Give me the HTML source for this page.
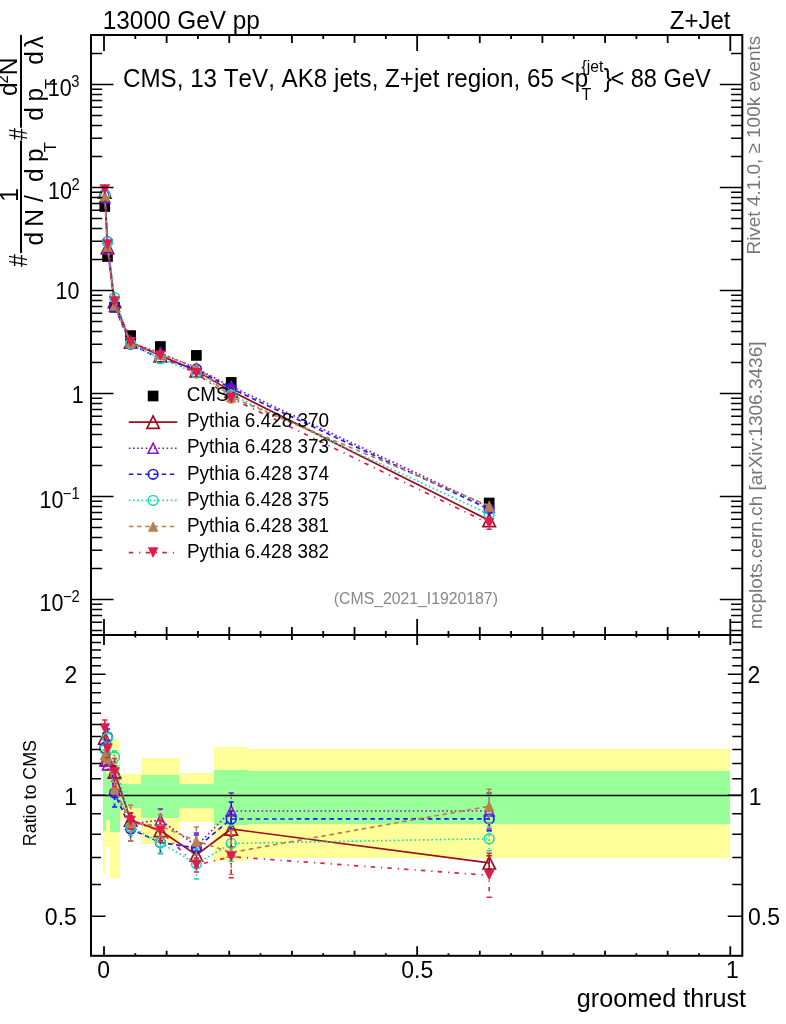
<!DOCTYPE html>
<html><head><meta charset="utf-8"><style>
html,body{margin:0;padding:0;background:#fff;}
svg{display:block;will-change:transform;}
text{font-family:"Liberation Sans", Arial, Helvetica, sans-serif;font-kerning:none;font-feature-settings:"kern" 0,"liga" 0;}
</style></head><body>
<svg width="786" height="1024" viewBox="0 0 786 1024">
<rect width="786" height="1024" fill="#fff"/>
<path d="M103,760H106V875H103ZM106,762H110V847H106ZM110,739H120V878H110ZM120,774H141V820H120ZM141,758H179V844H141ZM179,773H214V822H179ZM214,747H248V861H214ZM248,749H730V858H248Z" fill="#ffff99" shape-rendering="crispEdges"/>
<path d="M103,766H106V831H103ZM106,774H110V820H106ZM110,765H120V832H110ZM120,784H141V808H120ZM141,775H179V818H141ZM179,784H214V808H179ZM214,770H248V825H214ZM248,771H730V824H248Z" fill="#99ff99" shape-rendering="crispEdges"/>
<line x1="91" y1="795.5" x2="742.3" y2="795.5" stroke="#000" stroke-width="1.5"/>
<clipPath id="ct"><rect x="91" y="35" width="651.3" height="600"/></clipPath>
<clipPath id="cr"><rect x="91" y="635" width="651.3" height="320.79999999999995"/></clipPath>
<g clip-path="url(#ct)">
<rect x="99.43" y="201.15" width="10.70" height="10.70" fill="#000"/>
<rect x="102.16" y="251.15" width="10.70" height="10.70" fill="#000"/>
<rect x="109.21" y="301.95" width="10.70" height="10.70" fill="#000"/>
<rect x="125.27" y="330.25" width="10.70" height="10.70" fill="#000"/>
<rect x="155.02" y="341.15" width="10.70" height="10.70" fill="#000"/>
<rect x="191.03" y="350.05" width="10.70" height="10.70" fill="#000"/>
<rect x="225.88" y="377.05" width="10.70" height="10.70" fill="#000"/>
<rect x="483.82" y="497.65" width="10.70" height="10.70" fill="#000"/>
<path d="M104.78,191.90 L107.51,247.53 L114.56,301.41 L130.62,342.01 L160.37,355.60 L196.38,370.77 L231.23,391.11 L489.17,520.37" fill="none" stroke="#a00c1c" stroke-width="1.7"/>
<path d="M98.58,198.10 L110.98,198.10 L104.78,185.70 Z" fill="none" stroke="#a00c1c" stroke-width="1.7"/>
<path d="M101.31,253.73 L113.71,253.73 L107.51,241.33 Z" fill="none" stroke="#a00c1c" stroke-width="1.7"/>
<path d="M108.36,307.61 L120.76,307.61 L114.56,295.21 Z" fill="none" stroke="#a00c1c" stroke-width="1.7"/>
<path d="M124.42,348.21 L136.82,348.21 L130.62,335.81 Z" fill="none" stroke="#a00c1c" stroke-width="1.7"/>
<path d="M154.17,361.80 L166.57,361.80 L160.37,349.40 Z" fill="none" stroke="#a00c1c" stroke-width="1.7"/>
<path d="M190.18,376.97 L202.58,376.97 L196.38,364.57 Z" fill="none" stroke="#a00c1c" stroke-width="1.7"/>
<path d="M225.03,397.31 L237.43,397.31 L231.23,384.91 Z" fill="none" stroke="#a00c1c" stroke-width="1.7"/>
<path d="M482.97,526.57 L495.37,526.57 L489.17,514.17 Z" fill="none" stroke="#a00c1c" stroke-width="1.7"/>
<path d="M104.78,197.79 L107.51,248.81 L114.56,306.02 L130.62,343.03 L160.37,352.91 L196.38,368.47 L231.23,386.50 L489.17,507.10" fill="none" stroke="#8a14c8" stroke-width="1.7" stroke-dasharray="1.6,2.6"/>
<path d="M99.78,202.79 L109.78,202.79 L104.78,192.79 Z" fill="none" stroke="#8a14c8" stroke-width="1.6"/>
<path d="M102.51,253.81 L112.51,253.81 L107.51,243.81 Z" fill="none" stroke="#8a14c8" stroke-width="1.6"/>
<path d="M109.56,311.02 L119.56,311.02 L114.56,301.02 Z" fill="none" stroke="#8a14c8" stroke-width="1.6"/>
<path d="M125.62,348.03 L135.62,348.03 L130.62,338.03 Z" fill="none" stroke="#8a14c8" stroke-width="1.6"/>
<path d="M155.37,357.91 L165.37,357.91 L160.37,347.91 Z" fill="none" stroke="#8a14c8" stroke-width="1.6"/>
<path d="M191.38,373.47 L201.38,373.47 L196.38,363.47 Z" fill="none" stroke="#8a14c8" stroke-width="1.6"/>
<path d="M226.23,391.50 L236.23,391.50 L231.23,381.50 Z" fill="none" stroke="#8a14c8" stroke-width="1.6"/>
<path d="M484.17,512.10 L494.17,512.10 L489.17,502.10 Z" fill="none" stroke="#8a14c8" stroke-width="1.6"/>
<path d="M104.78,194.46 L107.51,241.64 L114.56,306.79 L130.62,344.31 L160.37,358.67 L196.38,368.98 L231.23,388.55 L489.17,509.12" fill="none" stroke="#1c1cf0" stroke-width="1.7" stroke-dasharray="4.6,3.6"/>
<circle cx="104.78" cy="194.46" r="4.85" fill="none" stroke="#1c1cf0" stroke-width="1.6"/>
<circle cx="107.51" cy="241.64" r="4.85" fill="none" stroke="#1c1cf0" stroke-width="1.6"/>
<circle cx="114.56" cy="306.79" r="4.85" fill="none" stroke="#1c1cf0" stroke-width="1.6"/>
<circle cx="130.62" cy="344.31" r="4.85" fill="none" stroke="#1c1cf0" stroke-width="1.6"/>
<circle cx="160.37" cy="358.67" r="4.85" fill="none" stroke="#1c1cf0" stroke-width="1.6"/>
<circle cx="196.38" cy="368.98" r="4.85" fill="none" stroke="#1c1cf0" stroke-width="1.6"/>
<circle cx="231.23" cy="388.55" r="4.85" fill="none" stroke="#1c1cf0" stroke-width="1.6"/>
<circle cx="489.17" cy="509.12" r="4.85" fill="none" stroke="#1c1cf0" stroke-width="1.6"/>
<path d="M104.78,194.84 L107.51,241.90 L114.56,297.56 L130.62,343.80 L160.37,358.67 L196.38,373.08 L231.23,394.80 L489.17,514.20" fill="none" stroke="#14dcb4" stroke-width="1.7" stroke-dasharray="1.6,2.6"/>
<circle cx="104.78" cy="194.84" r="4.85" fill="none" stroke="#14dcb4" stroke-width="1.6"/>
<circle cx="107.51" cy="241.90" r="4.85" fill="none" stroke="#14dcb4" stroke-width="1.6"/>
<circle cx="114.56" cy="297.56" r="4.85" fill="none" stroke="#14dcb4" stroke-width="1.6"/>
<circle cx="130.62" cy="343.80" r="4.85" fill="none" stroke="#14dcb4" stroke-width="1.6"/>
<circle cx="160.37" cy="358.67" r="4.85" fill="none" stroke="#14dcb4" stroke-width="1.6"/>
<circle cx="196.38" cy="373.08" r="4.85" fill="none" stroke="#14dcb4" stroke-width="1.6"/>
<circle cx="231.23" cy="394.80" r="4.85" fill="none" stroke="#14dcb4" stroke-width="1.6"/>
<circle cx="489.17" cy="514.20" r="4.85" fill="none" stroke="#14dcb4" stroke-width="1.6"/>
<path d="M104.78,196.25 L107.51,247.02 L114.56,305.51 L130.62,342.77 L160.37,354.44 L196.38,367.19 L231.23,397.13 L489.17,505.87" fill="none" stroke="#b8804c" stroke-width="1.7" stroke-dasharray="4.6,3.6"/>
<path d="M231.23,391.50L231.23,402.77" stroke="#b8804c" stroke-width="1.6" stroke-dasharray="4.6,3.6"/><path d="M228.63,391.50L233.83,391.50M228.63,402.77L233.83,402.77" stroke="#b8804c" stroke-width="1.6"/>
<path d="M99.48,201.55 L110.08,201.55 L104.78,190.95 Z" fill="#b8804c"/>
<path d="M102.21,252.32 L112.81,252.32 L107.51,241.72 Z" fill="#b8804c"/>
<path d="M109.26,310.81 L119.86,310.81 L114.56,300.21 Z" fill="#b8804c"/>
<path d="M125.32,348.07 L135.92,348.07 L130.62,337.47 Z" fill="#b8804c"/>
<path d="M155.07,359.74 L165.67,359.74 L160.37,349.14 Z" fill="#b8804c"/>
<path d="M191.08,372.49 L201.68,372.49 L196.38,361.89 Z" fill="#b8804c"/>
<path d="M225.93,402.43 L236.53,402.43 L231.23,391.83 Z" fill="#b8804c"/>
<path d="M483.87,511.17 L494.47,511.17 L489.17,500.57 Z" fill="#b8804c"/>
<path d="M104.78,189.46 L107.51,244.66 L114.56,301.54 L130.62,342.26 L160.37,355.72 L196.38,373.34 L231.23,398.21 L489.17,523.57" fill="none" stroke="#e01c4c" stroke-width="1.7" stroke-dasharray="4.4,6,1.2,5.2"/>
<path d="M489.17,517.94L489.17,529.21" stroke="#e01c4c" stroke-width="1.6" stroke-dasharray="4.4,6,1.2,5.2"/><path d="M486.57,517.94L491.77,517.94M486.57,529.21L491.77,529.21" stroke="#e01c4c" stroke-width="1.6"/>
<path d="M99.48,184.16 L110.08,184.16 L104.78,194.76 Z" fill="#e01c4c"/>
<path d="M102.21,239.36 L112.81,239.36 L107.51,249.96 Z" fill="#e01c4c"/>
<path d="M109.26,296.24 L119.86,296.24 L114.56,306.84 Z" fill="#e01c4c"/>
<path d="M125.32,336.96 L135.92,336.96 L130.62,347.56 Z" fill="#e01c4c"/>
<path d="M155.07,350.42 L165.67,350.42 L160.37,361.02 Z" fill="#e01c4c"/>
<path d="M191.08,368.04 L201.68,368.04 L196.38,378.64 Z" fill="#e01c4c"/>
<path d="M225.93,392.91 L236.53,392.91 L231.23,403.51 Z" fill="#e01c4c"/>
<path d="M483.87,518.27 L494.47,518.27 L489.17,528.87 Z" fill="#e01c4c"/>
</g>
<g clip-path="url(#cr)">
<path d="M104.78,738.00 L107.51,760.00 L114.56,772.00 L130.62,820.00 L160.37,830.50 L196.38,855.00 L231.23,829.00 L489.17,862.80" fill="none" stroke="#a00c1c" stroke-width="1.7"/>
<path d="M104.78,733.00L104.78,743.00" stroke="#a00c1c" stroke-width="1.6"/><path d="M102.18,733.00L107.38,733.00M102.18,743.00L107.38,743.00" stroke="#a00c1c" stroke-width="1.6"/>
<path d="M107.51,755.00L107.51,765.00" stroke="#a00c1c" stroke-width="1.6"/><path d="M104.91,755.00L110.11,755.00M104.91,765.00L110.11,765.00" stroke="#a00c1c" stroke-width="1.6"/>
<path d="M114.56,766.00L114.56,778.00" stroke="#a00c1c" stroke-width="1.6"/><path d="M111.96,766.00L117.16,766.00M111.96,778.00L117.16,778.00" stroke="#a00c1c" stroke-width="1.6"/>
<path d="M130.62,813.00L130.62,827.00" stroke="#a00c1c" stroke-width="1.6"/><path d="M128.02,813.00L133.22,813.00M128.02,827.00L133.22,827.00" stroke="#a00c1c" stroke-width="1.6"/>
<path d="M160.37,820.50L160.37,840.50" stroke="#a00c1c" stroke-width="1.6"/><path d="M157.77,820.50L162.97,820.50M157.77,840.50L162.97,840.50" stroke="#a00c1c" stroke-width="1.6"/>
<path d="M196.38,843.00L196.38,867.00" stroke="#a00c1c" stroke-width="1.6"/><path d="M193.78,843.00L198.98,843.00M193.78,867.00L198.98,867.00" stroke="#a00c1c" stroke-width="1.6"/>
<path d="M231.23,811.00L231.23,847.00" stroke="#a00c1c" stroke-width="1.6"/><path d="M228.63,811.00L233.83,811.00M228.63,847.00L233.83,847.00" stroke="#a00c1c" stroke-width="1.6"/>
<path d="M489.17,855.80L489.17,869.80" stroke="#a00c1c" stroke-width="1.6"/><path d="M486.57,855.80L491.77,855.80M486.57,869.80L491.77,869.80" stroke="#a00c1c" stroke-width="1.6"/>
<path d="M98.58,744.20 L110.98,744.20 L104.78,731.80 Z" fill="none" stroke="#a00c1c" stroke-width="1.7"/>
<path d="M101.31,766.20 L113.71,766.20 L107.51,753.80 Z" fill="none" stroke="#a00c1c" stroke-width="1.7"/>
<path d="M108.36,778.20 L120.76,778.20 L114.56,765.80 Z" fill="none" stroke="#a00c1c" stroke-width="1.7"/>
<path d="M124.42,826.20 L136.82,826.20 L130.62,813.80 Z" fill="none" stroke="#a00c1c" stroke-width="1.7"/>
<path d="M154.17,836.70 L166.57,836.70 L160.37,824.30 Z" fill="none" stroke="#a00c1c" stroke-width="1.7"/>
<path d="M190.18,861.20 L202.58,861.20 L196.38,848.80 Z" fill="none" stroke="#a00c1c" stroke-width="1.7"/>
<path d="M225.03,835.20 L237.43,835.20 L231.23,822.80 Z" fill="none" stroke="#a00c1c" stroke-width="1.7"/>
<path d="M482.97,869.00 L495.37,869.00 L489.17,856.60 Z" fill="none" stroke="#a00c1c" stroke-width="1.7"/>
<path d="M104.78,761.00 L107.51,765.00 L114.56,790.00 L130.62,824.00 L160.37,820.00 L196.38,846.00 L231.23,811.00 L489.17,811.00" fill="none" stroke="#8a14c8" stroke-width="1.7" stroke-dasharray="1.6,2.6"/>
<path d="M104.78,756.00L104.78,766.00" stroke="#8a14c8" stroke-width="1.6" stroke-dasharray="1.6,2.6"/><path d="M102.18,756.00L107.38,756.00M102.18,766.00L107.38,766.00" stroke="#8a14c8" stroke-width="1.6"/>
<path d="M107.51,760.00L107.51,770.00" stroke="#8a14c8" stroke-width="1.6" stroke-dasharray="1.6,2.6"/><path d="M104.91,760.00L110.11,760.00M104.91,770.00L110.11,770.00" stroke="#8a14c8" stroke-width="1.6"/>
<path d="M114.56,784.00L114.56,796.00" stroke="#8a14c8" stroke-width="1.6" stroke-dasharray="1.6,2.6"/><path d="M111.96,784.00L117.16,784.00M111.96,796.00L117.16,796.00" stroke="#8a14c8" stroke-width="1.6"/>
<path d="M130.62,816.00L130.62,832.00" stroke="#8a14c8" stroke-width="1.6" stroke-dasharray="1.6,2.6"/><path d="M128.02,816.00L133.22,816.00M128.02,832.00L133.22,832.00" stroke="#8a14c8" stroke-width="1.6"/>
<path d="M160.37,809.00L160.37,831.00" stroke="#8a14c8" stroke-width="1.6" stroke-dasharray="1.6,2.6"/><path d="M157.77,809.00L162.97,809.00M157.77,831.00L162.97,831.00" stroke="#8a14c8" stroke-width="1.6"/>
<path d="M196.38,833.00L196.38,859.00" stroke="#8a14c8" stroke-width="1.6" stroke-dasharray="1.6,2.6"/><path d="M193.78,833.00L198.98,833.00M193.78,859.00L198.98,859.00" stroke="#8a14c8" stroke-width="1.6"/>
<path d="M231.23,793.00L231.23,829.00" stroke="#8a14c8" stroke-width="1.6" stroke-dasharray="1.6,2.6"/><path d="M228.63,793.00L233.83,793.00M228.63,829.00L233.83,829.00" stroke="#8a14c8" stroke-width="1.6"/>
<path d="M489.17,793.00L489.17,829.00" stroke="#8a14c8" stroke-width="1.6" stroke-dasharray="1.6,2.6"/><path d="M486.57,793.00L491.77,793.00M486.57,829.00L491.77,829.00" stroke="#8a14c8" stroke-width="1.6"/>
<path d="M99.78,766.00 L109.78,766.00 L104.78,756.00 Z" fill="none" stroke="#8a14c8" stroke-width="1.6"/>
<path d="M102.51,770.00 L112.51,770.00 L107.51,760.00 Z" fill="none" stroke="#8a14c8" stroke-width="1.6"/>
<path d="M109.56,795.00 L119.56,795.00 L114.56,785.00 Z" fill="none" stroke="#8a14c8" stroke-width="1.6"/>
<path d="M125.62,829.00 L135.62,829.00 L130.62,819.00 Z" fill="none" stroke="#8a14c8" stroke-width="1.6"/>
<path d="M155.37,825.00 L165.37,825.00 L160.37,815.00 Z" fill="none" stroke="#8a14c8" stroke-width="1.6"/>
<path d="M191.38,851.00 L201.38,851.00 L196.38,841.00 Z" fill="none" stroke="#8a14c8" stroke-width="1.6"/>
<path d="M226.23,816.00 L236.23,816.00 L231.23,806.00 Z" fill="none" stroke="#8a14c8" stroke-width="1.6"/>
<path d="M484.17,816.00 L494.17,816.00 L489.17,806.00 Z" fill="none" stroke="#8a14c8" stroke-width="1.6"/>
<path d="M104.78,748.00 L107.51,737.00 L114.56,793.00 L130.62,829.00 L160.37,842.50 L196.38,848.00 L231.23,819.00 L489.17,818.90" fill="none" stroke="#1c1cf0" stroke-width="1.7" stroke-dasharray="4.6,3.6"/>
<path d="M104.78,743.00L104.78,753.00" stroke="#1c1cf0" stroke-width="1.6" stroke-dasharray="4.6,3.6"/><path d="M102.18,743.00L107.38,743.00M102.18,753.00L107.38,753.00" stroke="#1c1cf0" stroke-width="1.6"/>
<path d="M107.51,729.00L107.51,745.00" stroke="#1c1cf0" stroke-width="1.6" stroke-dasharray="4.6,3.6"/><path d="M104.91,729.00L110.11,729.00M104.91,745.00L110.11,745.00" stroke="#1c1cf0" stroke-width="1.6"/>
<path d="M114.56,779.00L114.56,807.00" stroke="#1c1cf0" stroke-width="1.6" stroke-dasharray="4.6,3.6"/><path d="M111.96,779.00L117.16,779.00M111.96,807.00L117.16,807.00" stroke="#1c1cf0" stroke-width="1.6"/>
<path d="M130.62,817.00L130.62,841.00" stroke="#1c1cf0" stroke-width="1.6" stroke-dasharray="4.6,3.6"/><path d="M128.02,817.00L133.22,817.00M128.02,841.00L133.22,841.00" stroke="#1c1cf0" stroke-width="1.6"/>
<path d="M160.37,831.50L160.37,853.50" stroke="#1c1cf0" stroke-width="1.6" stroke-dasharray="4.6,3.6"/><path d="M157.77,831.50L162.97,831.50M157.77,853.50L162.97,853.50" stroke="#1c1cf0" stroke-width="1.6"/>
<path d="M196.38,835.00L196.38,861.00" stroke="#1c1cf0" stroke-width="1.6" stroke-dasharray="4.6,3.6"/><path d="M193.78,835.00L198.98,835.00M193.78,861.00L198.98,861.00" stroke="#1c1cf0" stroke-width="1.6"/>
<path d="M231.23,802.00L231.23,836.00" stroke="#1c1cf0" stroke-width="1.6" stroke-dasharray="4.6,3.6"/><path d="M228.63,802.00L233.83,802.00M228.63,836.00L233.83,836.00" stroke="#1c1cf0" stroke-width="1.6"/>
<path d="M489.17,806.90L489.17,830.90" stroke="#1c1cf0" stroke-width="1.6" stroke-dasharray="4.6,3.6"/><path d="M486.57,806.90L491.77,806.90M486.57,830.90L491.77,830.90" stroke="#1c1cf0" stroke-width="1.6"/>
<circle cx="104.78" cy="748.00" r="4.85" fill="none" stroke="#1c1cf0" stroke-width="1.6"/>
<circle cx="107.51" cy="737.00" r="4.85" fill="none" stroke="#1c1cf0" stroke-width="1.6"/>
<circle cx="114.56" cy="793.00" r="4.85" fill="none" stroke="#1c1cf0" stroke-width="1.6"/>
<circle cx="130.62" cy="829.00" r="4.85" fill="none" stroke="#1c1cf0" stroke-width="1.6"/>
<circle cx="160.37" cy="842.50" r="4.85" fill="none" stroke="#1c1cf0" stroke-width="1.6"/>
<circle cx="196.38" cy="848.00" r="4.85" fill="none" stroke="#1c1cf0" stroke-width="1.6"/>
<circle cx="231.23" cy="819.00" r="4.85" fill="none" stroke="#1c1cf0" stroke-width="1.6"/>
<circle cx="489.17" cy="818.90" r="4.85" fill="none" stroke="#1c1cf0" stroke-width="1.6"/>
<path d="M104.78,749.50 L107.51,738.00 L114.56,757.00 L130.62,827.00 L160.37,842.50 L196.38,864.00 L231.23,843.40 L489.17,838.70" fill="none" stroke="#14dcb4" stroke-width="1.7" stroke-dasharray="1.6,2.6"/>
<path d="M104.78,744.50L104.78,754.50" stroke="#14dcb4" stroke-width="1.6" stroke-dasharray="1.6,2.6"/><path d="M102.18,744.50L107.38,744.50M102.18,754.50L107.38,754.50" stroke="#14dcb4" stroke-width="1.6"/>
<path d="M107.51,733.00L107.51,743.00" stroke="#14dcb4" stroke-width="1.6" stroke-dasharray="1.6,2.6"/><path d="M104.91,733.00L110.11,733.00M104.91,743.00L110.11,743.00" stroke="#14dcb4" stroke-width="1.6"/>
<path d="M114.56,751.00L114.56,763.00" stroke="#14dcb4" stroke-width="1.6" stroke-dasharray="1.6,2.6"/><path d="M111.96,751.00L117.16,751.00M111.96,763.00L117.16,763.00" stroke="#14dcb4" stroke-width="1.6"/>
<path d="M130.62,819.00L130.62,835.00" stroke="#14dcb4" stroke-width="1.6" stroke-dasharray="1.6,2.6"/><path d="M128.02,819.00L133.22,819.00M128.02,835.00L133.22,835.00" stroke="#14dcb4" stroke-width="1.6"/>
<path d="M160.37,831.50L160.37,853.50" stroke="#14dcb4" stroke-width="1.6" stroke-dasharray="1.6,2.6"/><path d="M157.77,831.50L162.97,831.50M157.77,853.50L162.97,853.50" stroke="#14dcb4" stroke-width="1.6"/>
<path d="M196.38,849.00L196.38,879.00" stroke="#14dcb4" stroke-width="1.6" stroke-dasharray="1.6,2.6"/><path d="M193.78,849.00L198.98,849.00M193.78,879.00L198.98,879.00" stroke="#14dcb4" stroke-width="1.6"/>
<path d="M231.23,825.40L231.23,861.40" stroke="#14dcb4" stroke-width="1.6" stroke-dasharray="1.6,2.6"/><path d="M228.63,825.40L233.83,825.40M228.63,861.40L233.83,861.40" stroke="#14dcb4" stroke-width="1.6"/>
<path d="M489.17,826.70L489.17,850.70" stroke="#14dcb4" stroke-width="1.6" stroke-dasharray="1.6,2.6"/><path d="M486.57,826.70L491.77,826.70M486.57,850.70L491.77,850.70" stroke="#14dcb4" stroke-width="1.6"/>
<circle cx="104.78" cy="749.50" r="4.85" fill="none" stroke="#14dcb4" stroke-width="1.6"/>
<circle cx="107.51" cy="738.00" r="4.85" fill="none" stroke="#14dcb4" stroke-width="1.6"/>
<circle cx="114.56" cy="757.00" r="4.85" fill="none" stroke="#14dcb4" stroke-width="1.6"/>
<circle cx="130.62" cy="827.00" r="4.85" fill="none" stroke="#14dcb4" stroke-width="1.6"/>
<circle cx="160.37" cy="842.50" r="4.85" fill="none" stroke="#14dcb4" stroke-width="1.6"/>
<circle cx="196.38" cy="864.00" r="4.85" fill="none" stroke="#14dcb4" stroke-width="1.6"/>
<circle cx="231.23" cy="843.40" r="4.85" fill="none" stroke="#14dcb4" stroke-width="1.6"/>
<circle cx="489.17" cy="838.70" r="4.85" fill="none" stroke="#14dcb4" stroke-width="1.6"/>
<path d="M104.78,755.00 L107.51,758.00 L114.56,788.00 L130.62,823.00 L160.37,826.00 L196.38,841.00 L231.23,852.50 L489.17,806.20" fill="none" stroke="#b8804c" stroke-width="1.7" stroke-dasharray="4.6,3.6"/>
<path d="M104.78,750.00L104.78,760.00" stroke="#b8804c" stroke-width="1.6" stroke-dasharray="4.6,3.6"/><path d="M102.18,750.00L107.38,750.00M102.18,760.00L107.38,760.00" stroke="#b8804c" stroke-width="1.6"/>
<path d="M107.51,753.00L107.51,763.00" stroke="#b8804c" stroke-width="1.6" stroke-dasharray="4.6,3.6"/><path d="M104.91,753.00L110.11,753.00M104.91,763.00L110.11,763.00" stroke="#b8804c" stroke-width="1.6"/>
<path d="M114.56,782.00L114.56,794.00" stroke="#b8804c" stroke-width="1.6" stroke-dasharray="4.6,3.6"/><path d="M111.96,782.00L117.16,782.00M111.96,794.00L117.16,794.00" stroke="#b8804c" stroke-width="1.6"/>
<path d="M130.62,805.00L130.62,841.00" stroke="#b8804c" stroke-width="1.6" stroke-dasharray="4.6,3.6"/><path d="M128.02,805.00L133.22,805.00M128.02,841.00L133.22,841.00" stroke="#b8804c" stroke-width="1.6"/>
<path d="M160.37,815.00L160.37,837.00" stroke="#b8804c" stroke-width="1.6" stroke-dasharray="4.6,3.6"/><path d="M157.77,815.00L162.97,815.00M157.77,837.00L162.97,837.00" stroke="#b8804c" stroke-width="1.6"/>
<path d="M196.38,827.00L196.38,855.00" stroke="#b8804c" stroke-width="1.6" stroke-dasharray="4.6,3.6"/><path d="M193.78,827.00L198.98,827.00M193.78,855.00L198.98,855.00" stroke="#b8804c" stroke-width="1.6"/>
<path d="M231.23,830.50L231.23,874.50" stroke="#b8804c" stroke-width="1.6" stroke-dasharray="4.6,3.6"/><path d="M228.63,830.50L233.83,830.50M228.63,874.50L233.83,874.50" stroke="#b8804c" stroke-width="1.6"/>
<path d="M489.17,789.20L489.17,823.20" stroke="#b8804c" stroke-width="1.6" stroke-dasharray="4.6,3.6"/><path d="M486.57,789.20L491.77,789.20M486.57,823.20L491.77,823.20" stroke="#b8804c" stroke-width="1.6"/>
<path d="M99.48,760.30 L110.08,760.30 L104.78,749.70 Z" fill="#b8804c"/>
<path d="M102.21,763.30 L112.81,763.30 L107.51,752.70 Z" fill="#b8804c"/>
<path d="M109.26,793.30 L119.86,793.30 L114.56,782.70 Z" fill="#b8804c"/>
<path d="M125.32,828.30 L135.92,828.30 L130.62,817.70 Z" fill="#b8804c"/>
<path d="M155.07,831.30 L165.67,831.30 L160.37,820.70 Z" fill="#b8804c"/>
<path d="M191.08,846.30 L201.68,846.30 L196.38,835.70 Z" fill="#b8804c"/>
<path d="M225.93,857.80 L236.53,857.80 L231.23,847.20 Z" fill="#b8804c"/>
<path d="M483.87,811.50 L494.47,811.50 L489.17,800.90 Z" fill="#b8804c"/>
<path d="M104.78,728.50 L107.51,748.80 L114.56,772.50 L130.62,821.00 L160.37,831.00 L196.38,865.00 L231.23,856.70 L489.17,875.30" fill="none" stroke="#e01c4c" stroke-width="1.7" stroke-dasharray="4.4,6,1.2,5.2"/>
<path d="M104.78,720.00L104.78,737.00" stroke="#e01c4c" stroke-width="1.6" stroke-dasharray="4.4,6,1.2,5.2"/><path d="M102.18,720.00L107.38,720.00M102.18,737.00L107.38,737.00" stroke="#e01c4c" stroke-width="1.6"/>
<path d="M107.51,739.80L107.51,757.80" stroke="#e01c4c" stroke-width="1.6" stroke-dasharray="4.4,6,1.2,5.2"/><path d="M104.91,739.80L110.11,739.80M104.91,757.80L110.11,757.80" stroke="#e01c4c" stroke-width="1.6"/>
<path d="M114.56,758.50L114.56,786.50" stroke="#e01c4c" stroke-width="1.6" stroke-dasharray="4.4,6,1.2,5.2"/><path d="M111.96,758.50L117.16,758.50M111.96,786.50L117.16,786.50" stroke="#e01c4c" stroke-width="1.6"/>
<path d="M130.62,813.00L130.62,829.00" stroke="#e01c4c" stroke-width="1.6" stroke-dasharray="4.4,6,1.2,5.2"/><path d="M128.02,813.00L133.22,813.00M128.02,829.00L133.22,829.00" stroke="#e01c4c" stroke-width="1.6"/>
<path d="M160.37,820.00L160.37,842.00" stroke="#e01c4c" stroke-width="1.6" stroke-dasharray="4.4,6,1.2,5.2"/><path d="M157.77,820.00L162.97,820.00M157.77,842.00L162.97,842.00" stroke="#e01c4c" stroke-width="1.6"/>
<path d="M196.38,858.00L196.38,872.00" stroke="#e01c4c" stroke-width="1.6" stroke-dasharray="4.4,6,1.2,5.2"/><path d="M193.78,858.00L198.98,858.00M193.78,872.00L198.98,872.00" stroke="#e01c4c" stroke-width="1.6"/>
<path d="M231.23,835.70L231.23,877.70" stroke="#e01c4c" stroke-width="1.6" stroke-dasharray="4.4,6,1.2,5.2"/><path d="M228.63,835.70L233.83,835.70M228.63,877.70L233.83,877.70" stroke="#e01c4c" stroke-width="1.6"/>
<path d="M489.17,853.30L489.17,897.30" stroke="#e01c4c" stroke-width="1.6" stroke-dasharray="4.4,6,1.2,5.2"/><path d="M486.57,853.30L491.77,853.30M486.57,897.30L491.77,897.30" stroke="#e01c4c" stroke-width="1.6"/>
<path d="M99.48,723.20 L110.08,723.20 L104.78,733.80 Z" fill="#e01c4c"/>
<path d="M102.21,743.50 L112.81,743.50 L107.51,754.10 Z" fill="#e01c4c"/>
<path d="M109.26,767.20 L119.86,767.20 L114.56,777.80 Z" fill="#e01c4c"/>
<path d="M125.32,815.70 L135.92,815.70 L130.62,826.30 Z" fill="#e01c4c"/>
<path d="M155.07,825.70 L165.67,825.70 L160.37,836.30 Z" fill="#e01c4c"/>
<path d="M191.08,859.70 L201.68,859.70 L196.38,870.30 Z" fill="#e01c4c"/>
<path d="M225.93,851.40 L236.53,851.40 L231.23,862.00 Z" fill="#e01c4c"/>
<path d="M483.87,870.00 L494.47,870.00 L489.17,880.60 Z" fill="#e01c4c"/>
</g>
<path d="M104.00,35.00L104.00,51.00M104.00,635.00L104.00,619.00M104.00,635.00L104.00,645.00M104.00,955.80L104.00,946.30M135.31,35.00L135.31,39.00M135.31,635.00L135.31,631.00M135.31,635.00L135.31,637.50M135.31,955.80L135.31,953.30M166.63,35.00L166.63,43.00M166.63,635.00L166.63,627.00M166.63,635.00L166.63,640.00M166.63,955.80L166.63,950.80M197.94,35.00L197.94,39.00M197.94,635.00L197.94,631.00M197.94,635.00L197.94,637.50M197.94,955.80L197.94,953.30M229.26,35.00L229.26,43.00M229.26,635.00L229.26,627.00M229.26,635.00L229.26,640.00M229.26,955.80L229.26,950.80M260.57,35.00L260.57,39.00M260.57,635.00L260.57,631.00M260.57,635.00L260.57,637.50M260.57,955.80L260.57,953.30M291.89,35.00L291.89,43.00M291.89,635.00L291.89,627.00M291.89,635.00L291.89,640.00M291.89,955.80L291.89,950.80M323.21,35.00L323.21,39.00M323.21,635.00L323.21,631.00M323.21,635.00L323.21,637.50M323.21,955.80L323.21,953.30M354.52,35.00L354.52,43.00M354.52,635.00L354.52,627.00M354.52,635.00L354.52,640.00M354.52,955.80L354.52,950.80M385.83,35.00L385.83,39.00M385.83,635.00L385.83,631.00M385.83,635.00L385.83,637.50M385.83,955.80L385.83,953.30M417.15,35.00L417.15,51.00M417.15,635.00L417.15,619.00M417.15,635.00L417.15,645.00M417.15,955.80L417.15,946.30M448.46,35.00L448.46,39.00M448.46,635.00L448.46,631.00M448.46,635.00L448.46,637.50M448.46,955.80L448.46,953.30M479.78,35.00L479.78,43.00M479.78,635.00L479.78,627.00M479.78,635.00L479.78,640.00M479.78,955.80L479.78,950.80M511.09,35.00L511.09,39.00M511.09,635.00L511.09,631.00M511.09,635.00L511.09,637.50M511.09,955.80L511.09,953.30M542.41,35.00L542.41,43.00M542.41,635.00L542.41,627.00M542.41,635.00L542.41,640.00M542.41,955.80L542.41,950.80M573.72,35.00L573.72,39.00M573.72,635.00L573.72,631.00M573.72,635.00L573.72,637.50M573.72,955.80L573.72,953.30M605.04,35.00L605.04,43.00M605.04,635.00L605.04,627.00M605.04,635.00L605.04,640.00M605.04,955.80L605.04,950.80M636.36,35.00L636.36,39.00M636.36,635.00L636.36,631.00M636.36,635.00L636.36,637.50M636.36,955.80L636.36,953.30M667.67,35.00L667.67,43.00M667.67,635.00L667.67,627.00M667.67,635.00L667.67,640.00M667.67,955.80L667.67,950.80M698.99,35.00L698.99,39.00M698.99,635.00L698.99,631.00M698.99,635.00L698.99,637.50M698.99,955.80L698.99,953.30M730.30,35.00L730.30,51.00M730.30,635.00L730.30,619.00M730.30,635.00L730.30,645.00M730.30,955.80L730.30,946.30" stroke="#000" stroke-width="1.8" fill="none"/>
<path d="M91.00,630.51L102.20,630.51M742.30,630.51L731.10,630.51M91.00,622.35L102.20,622.35M742.30,622.35L731.10,622.35M91.00,615.45L102.20,615.45M742.30,615.45L731.10,615.45M91.00,609.48L102.20,609.48M742.30,609.48L731.10,609.48M91.00,604.21L102.20,604.21M742.30,604.21L731.10,604.21M91.00,599.50L113.50,599.50M742.30,599.50L719.80,599.50M91.00,568.49L102.20,568.49M742.30,568.49L731.10,568.49M91.00,550.36L102.20,550.36M742.30,550.36L731.10,550.36M91.00,537.49L102.20,537.49M742.30,537.49L731.10,537.49M91.00,527.51L102.20,527.51M742.30,527.51L731.10,527.51M91.00,519.35L102.20,519.35M742.30,519.35L731.10,519.35M91.00,512.45L102.20,512.45M742.30,512.45L731.10,512.45M91.00,506.48L102.20,506.48M742.30,506.48L731.10,506.48M91.00,501.21L102.20,501.21M742.30,501.21L731.10,501.21M91.00,496.50L113.50,496.50M742.30,496.50L719.80,496.50M91.00,465.49L102.20,465.49M742.30,465.49L731.10,465.49M91.00,447.36L102.20,447.36M742.30,447.36L731.10,447.36M91.00,434.49L102.20,434.49M742.30,434.49L731.10,434.49M91.00,424.51L102.20,424.51M742.30,424.51L731.10,424.51M91.00,416.35L102.20,416.35M742.30,416.35L731.10,416.35M91.00,409.45L102.20,409.45M742.30,409.45L731.10,409.45M91.00,403.48L102.20,403.48M742.30,403.48L731.10,403.48M91.00,398.21L102.20,398.21M742.30,398.21L731.10,398.21M91.00,393.50L113.50,393.50M742.30,393.50L719.80,393.50M91.00,362.49L102.20,362.49M742.30,362.49L731.10,362.49M91.00,344.36L102.20,344.36M742.30,344.36L731.10,344.36M91.00,331.49L102.20,331.49M742.30,331.49L731.10,331.49M91.00,321.51L102.20,321.51M742.30,321.51L731.10,321.51M91.00,313.35L102.20,313.35M742.30,313.35L731.10,313.35M91.00,306.45L102.20,306.45M742.30,306.45L731.10,306.45M91.00,300.48L102.20,300.48M742.30,300.48L731.10,300.48M91.00,295.21L102.20,295.21M742.30,295.21L731.10,295.21M91.00,290.50L113.50,290.50M742.30,290.50L719.80,290.50M91.00,259.49L102.20,259.49M742.30,259.49L731.10,259.49M91.00,241.36L102.20,241.36M742.30,241.36L731.10,241.36M91.00,228.49L102.20,228.49M742.30,228.49L731.10,228.49M91.00,218.51L102.20,218.51M742.30,218.51L731.10,218.51M91.00,210.35L102.20,210.35M742.30,210.35L731.10,210.35M91.00,203.45L102.20,203.45M742.30,203.45L731.10,203.45M91.00,197.48L102.20,197.48M742.30,197.48L731.10,197.48M91.00,192.21L102.20,192.21M742.30,192.21L731.10,192.21M91.00,187.50L113.50,187.50M742.30,187.50L719.80,187.50M91.00,156.49L102.20,156.49M742.30,156.49L731.10,156.49M91.00,138.36L102.20,138.36M742.30,138.36L731.10,138.36M91.00,125.49L102.20,125.49M742.30,125.49L731.10,125.49M91.00,115.51L102.20,115.51M742.30,115.51L731.10,115.51M91.00,107.35L102.20,107.35M742.30,107.35L731.10,107.35M91.00,100.45L102.20,100.45M742.30,100.45L731.10,100.45M91.00,94.48L102.20,94.48M742.30,94.48L731.10,94.48M91.00,89.21L102.20,89.21M742.30,89.21L731.10,89.21M91.00,84.50L113.50,84.50M742.30,84.50L719.80,84.50M91.00,53.49L102.20,53.49M742.30,53.49L731.10,53.49M91.00,35.36L102.20,35.36M742.30,35.36L731.10,35.36M91.00,916.31L105.50,916.31M742.30,916.31L727.80,916.31M91.00,884.48L101.00,884.48M742.30,884.48L732.30,884.48M91.00,857.57L101.00,857.57M742.30,857.57L732.30,857.57M91.00,834.26L101.00,834.26M742.30,834.26L732.30,834.26M91.00,813.69L101.00,813.69M742.30,813.69L732.30,813.69M91.00,795.30L105.50,795.30M742.30,795.30L727.80,795.30M91.00,778.66L101.00,778.66M742.30,778.66L732.30,778.66M91.00,763.47L101.00,763.47M742.30,763.47L732.30,763.47M91.00,749.49L101.00,749.49M742.30,749.49L732.30,749.49M91.00,736.56L101.00,736.56M742.30,736.56L732.30,736.56M91.00,724.51L101.00,724.51M742.30,724.51L732.30,724.51M91.00,713.24L101.00,713.24M742.30,713.24L732.30,713.24M91.00,702.66L101.00,702.66M742.30,702.66L732.30,702.66M91.00,692.68L101.00,692.68M742.30,692.68L732.30,692.68M91.00,683.24L101.00,683.24M742.30,683.24L732.30,683.24M91.00,674.29L105.50,674.29M742.30,674.29L727.80,674.29M91.00,665.77L101.00,665.77M742.30,665.77L732.30,665.77M91.00,657.65L101.00,657.65M742.30,657.65L732.30,657.65M91.00,649.89L101.00,649.89M742.30,649.89L732.30,649.89M91.00,642.46L101.00,642.46M742.30,642.46L732.30,642.46" stroke="#000" stroke-width="1.5" fill="none"/>
<rect x="91" y="35" width="651.3" height="920.8" fill="none" stroke="#000" stroke-width="2"/>
<line x1="91" y1="635" x2="742.3" y2="635" stroke="#000" stroke-width="2"/>
<text transform="translate(102.77,28.9) scale(1,1.055)" font-size="24.36" fill="#000">13000 GeV pp</text>
<text transform="translate(669.78,28.9) scale(1,1.055)" font-size="23.98" fill="#000">Z+Jet</text>
<text transform="translate(122.99,87) scale(1,1.055)" font-size="24.19" fill="#000">CMS, 13 TeV, AK8 jets, Z+jet region, 65 &lt;p</text>
<text transform="translate(581.56,71.5) scale(1,1.055)" font-size="15.68" fill="#000">{jet</text>
<text transform="translate(581.48,100) scale(1,1.055)" font-size="16.00" fill="#000">T</text>
<text transform="translate(603.63,87) scale(1,1.055)" font-size="24.50" fill="#000">}</text>
<text transform="translate(610.42,87) scale(1,1.055)" font-size="23.60" fill="#000">&lt; 88 GeV</text>
<text transform="translate(71.33,87.39999999999999) scale(1,1.070)" font-size="14.70" fill="#000">3</text>
<text transform="translate(47.81,96.19999999999999) scale(1,1.070)" font-size="21.50" fill="#000">10</text>
<text transform="translate(71.48,190.2) scale(1,1.070)" font-size="14.70" fill="#000">2</text>
<text transform="translate(48.10,199.0) scale(1,1.070)" font-size="21.50" fill="#000">10</text>
<text transform="translate(55.59,298.7) scale(1,1.070)" font-size="21.50" fill="#000">10</text>
<text transform="translate(71.63,402.9) scale(1,1.070)" font-size="21.50" fill="#000">1</text>
<text transform="translate(62.80,499.2) scale(1,1.070)" font-size="14.70" fill="#000">−1</text>
<text transform="translate(39.43,508.0) scale(1,1.070)" font-size="21.50" fill="#000">10</text>
<text transform="translate(62.88,602.3000000000001) scale(1,1.070)" font-size="14.70" fill="#000">−2</text>
<text transform="translate(39.50,611.1) scale(1,1.070)" font-size="21.50" fill="#000">10</text>
<text transform="translate(64.39,682.9) scale(1,1.055)" font-size="23.00" fill="#000">2</text>
<text transform="translate(64.27,804.8) scale(1,1.055)" font-size="23.00" fill="#000">1</text>
<text transform="translate(44.85,925.2) scale(1,1.055)" font-size="23.00" fill="#000">0.5</text>
<text transform="translate(747.55,682.6) scale(1,1.055)" font-size="23.00" fill="#000">2</text>
<text transform="translate(748.77,804.8) scale(1,1.055)" font-size="23.00" fill="#000">1</text>
<text transform="translate(747.98,925.2) scale(1,1.055)" font-size="23.00" fill="#000">0.5</text>
<text transform="translate(97.16,977.9) scale(1,1.055)" font-size="23.00" fill="#000">0</text>
<text transform="translate(401.21,977.9) scale(1,1.055)" font-size="23.00" fill="#000">0.5</text>
<text transform="translate(726.07,977.9) scale(1,1.055)" font-size="23.00" fill="#000">1</text>
<text transform="translate(576.79,1006.9) scale(1,1.055)" font-size="25.19" fill="#000">groomed thrust</text>
<text transform="translate(333.85,604.2) scale(1,1.055)" font-size="15.79" fill="#888">(CMS_2021_I1920187)</text>
<text transform="translate(186.65,401.2) scale(1,1.055)" font-size="18.95" fill="#000">CMS</text>
<rect x="147.75" y="390.65" width="10.70" height="10.70" fill="#000"/>
<text transform="translate(186.88,427.3) scale(1,1.055)" font-size="18.95" fill="#000">Pythia 6.428 370</text>
<line x1="128.8" y1="422.1" x2="177.2" y2="422.1" stroke="#a00c1c" stroke-width="1.6"/>
<path d="M146.90,428.30 L159.30,428.30 L153.10,415.90 Z" fill="none" stroke="#a00c1c" stroke-width="1.7"/>
<text transform="translate(186.88,453.4) scale(1,1.055)" font-size="18.95" fill="#000">Pythia 6.428 373</text>
<line x1="128.8" y1="448.2" x2="177.2" y2="448.2" stroke="#8a14c8" stroke-width="1.6" stroke-dasharray="1.6,2.6"/>
<path d="M148.10,453.20 L158.10,453.20 L153.10,443.20 Z" fill="none" stroke="#8a14c8" stroke-width="1.6"/>
<text transform="translate(186.88,479.5) scale(1,1.055)" font-size="18.95" fill="#000">Pythia 6.428 374</text>
<line x1="128.8" y1="474.3" x2="177.2" y2="474.3" stroke="#1c1cf0" stroke-width="1.6" stroke-dasharray="4.6,3.6"/>
<circle cx="153.10" cy="474.30" r="4.85" fill="none" stroke="#1c1cf0" stroke-width="1.6"/>
<text transform="translate(186.88,505.6) scale(1,1.055)" font-size="18.95" fill="#000">Pythia 6.428 375</text>
<line x1="128.8" y1="500.40000000000003" x2="177.2" y2="500.40000000000003" stroke="#14dcb4" stroke-width="1.6" stroke-dasharray="1.6,2.6"/>
<circle cx="153.10" cy="500.40" r="4.85" fill="none" stroke="#14dcb4" stroke-width="1.6"/>
<text transform="translate(186.88,531.7) scale(1,1.055)" font-size="18.95" fill="#000">Pythia 6.428 381</text>
<line x1="128.8" y1="526.5" x2="177.2" y2="526.5" stroke="#b8804c" stroke-width="1.6" stroke-dasharray="4.6,3.6"/>
<path d="M147.80,531.80 L158.40,531.80 L153.10,521.20 Z" fill="#b8804c"/>
<text transform="translate(186.88,557.8) scale(1,1.055)" font-size="18.95" fill="#000">Pythia 6.428 382</text>
<line x1="128.8" y1="552.5999999999999" x2="177.2" y2="552.5999999999999" stroke="#e01c4c" stroke-width="1.6" stroke-dasharray="4.4,6,1.2,5.2"/>
<path d="M147.80,547.30 L158.40,547.30 L153.10,557.90 Z" fill="#e01c4c"/>
<g transform="rotate(-90)"><text transform="translate(-254.51,760) scale(1.000,1.010)" font-size="18.93" fill="#777">Rivet 4.1.0, ≥ 100k events</text><text transform="translate(-628.94,762) scale(1.000,1.010)" font-size="19.03" fill="#777">mcplots.cern.ch [arXiv:1306.3436]</text><text transform="translate(-846.13,36) scale(1.000,1.055)" font-size="17.85" fill="#000">Ratio to CMS</text><text transform="translate(-266.71,27.3) scale(0.921,1.050)" font-size="24.50" fill="#000">#</text><rect x="-253" y="20" width="112.5" height="2"/><text transform="translate(-201.64,18) scale(1.000,1.055)" font-size="24.50" fill="#000">1</text><text transform="translate(-245.58,42.5) scale(1.000,1.055)" font-size="24.50" fill="#000">d</text><text transform="translate(-226.86,42.5) scale(1.000,1.055)" font-size="24.50" fill="#000">N</text><text transform="translate(-201.90,42.5) scale(1.000,1.055)" font-size="24.50" fill="#000">/</text><text transform="translate(-182.08,42.5) scale(1.000,1.055)" font-size="24.50" fill="#000">d</text><text transform="translate(-161.89,42.5) scale(1.000,1.055)" font-size="24.50" fill="#000">p</text><text transform="translate(-152.23,56) scale(1.000,1.000)" font-size="16.50" fill="#000">T</text><text transform="translate(-139.91,27.4) scale(0.869,1.050)" font-size="24.50" fill="#000">#</text><rect x="-127.7" y="20" width="92.8" height="2"/><text transform="translate(-95.98,17.1) scale(1.000,1.055)" font-size="24.50" fill="#000">d</text><text transform="translate(-83.45,8.2) scale(1.000,1.055)" font-size="15.00" fill="#000">2</text><text transform="translate(-75.16,17.1) scale(1.000,1.055)" font-size="24.50" fill="#000">N</text><text transform="translate(-120.78,43.4) scale(1.000,1.055)" font-size="24.50" fill="#000">d</text><text transform="translate(-101.39,43.4) scale(1.000,1.055)" font-size="24.50" fill="#000">p</text><text transform="translate(-88.93,57.1) scale(1.000,1.000)" font-size="16.50" fill="#000">T</text><text transform="translate(-64.68,43.4) scale(1.000,1.055)" font-size="24.50" fill="#000">d</text><text transform="translate(-48.34,43.4) scale(1.000,1.055)" font-size="24.50" fill="#000">λ</text></g>
</svg></body></html>
